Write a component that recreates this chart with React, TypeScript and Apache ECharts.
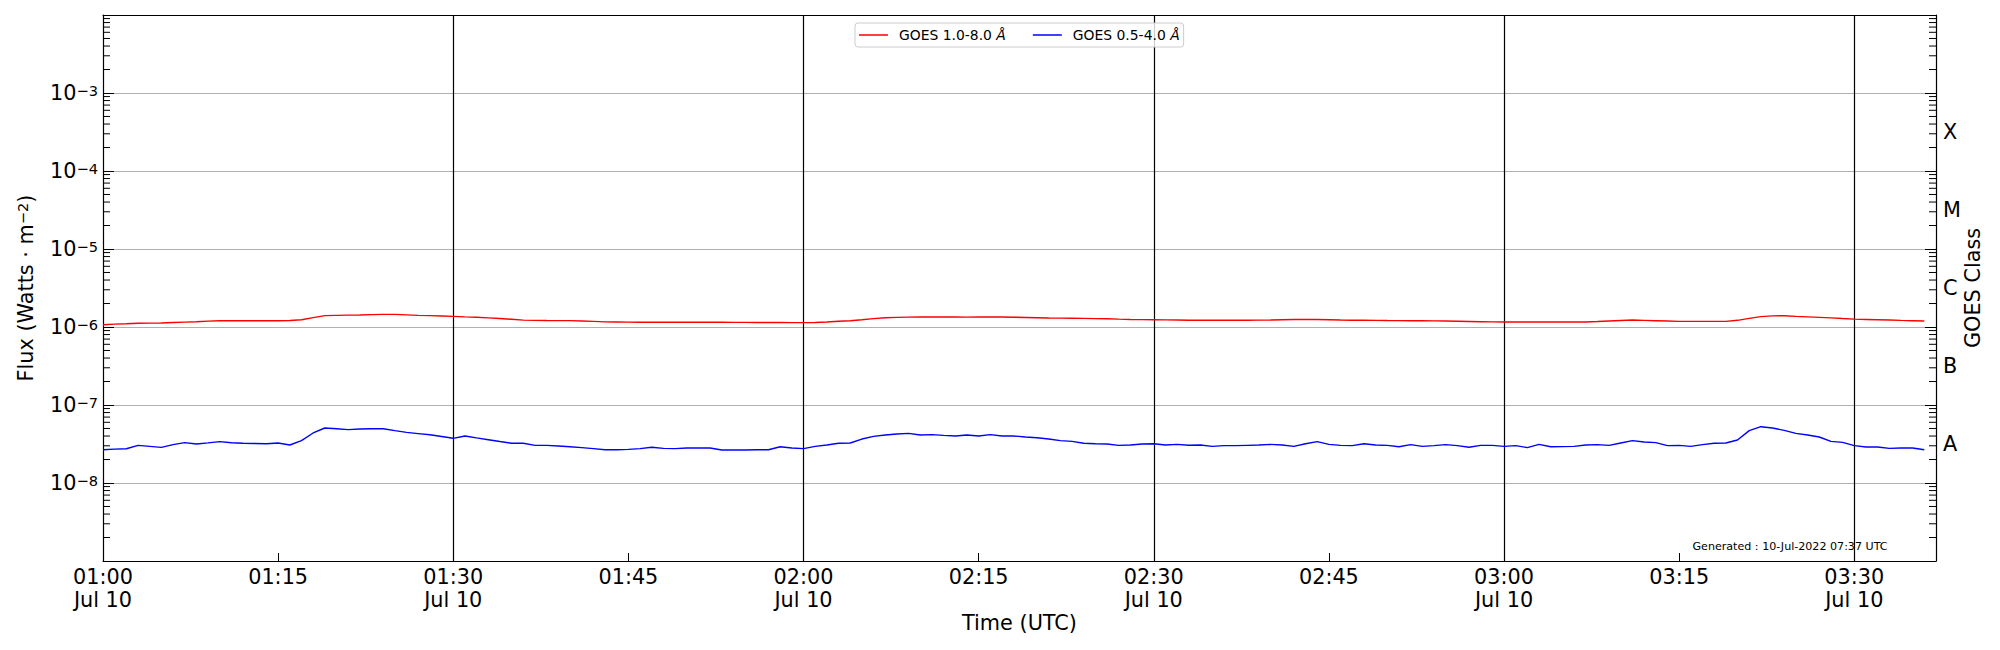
import React, { useEffect, useRef } from "react";
import * as echarts from "echarts";

const FONT = "'DejaVu Sans', sans-serif";

// time axis (minutes since 00:00 UTC, 10 Jul 2022)
const START_MIN = 60; // 01:00
const AXIS_END_MIN = 217; // 03:37
const xTickMinutes = [60, 75, 90, 105, 120, 135, 150, 165, 180, 195, 210];
const xTickLabels = [
  "01:00\nJul 10", "01:15", "01:30\nJul 10", "01:45", "02:00\nJul 10", "02:15",
  "02:30\nJul 10", "02:45", "03:00\nJul 10", "03:15", "03:30\nJul 10",
];

// GOES 1.0-8.0 Å flux, 1-minute cadence from 01:00 (×1e-6 W/m²)
const longMantissa = [
  1.07, 1.09, 1.10, 1.115, 1.12, 1.125, 1.14, 1.155, 1.17, 1.19,
  1.205, 1.205, 1.205, 1.205, 1.205, 1.205, 1.21, 1.24, 1.32, 1.40,
  1.41, 1.42, 1.425, 1.44, 1.45, 1.45, 1.43, 1.41, 1.40, 1.385,
  1.37, 1.35, 1.335, 1.31, 1.285, 1.255, 1.225, 1.215, 1.21, 1.206,
  1.206, 1.195, 1.18, 1.165, 1.16, 1.155, 1.15, 1.15, 1.148, 1.148,
  1.148, 1.148, 1.148, 1.148, 1.145, 1.145, 1.142, 1.14, 1.14, 1.138,
  1.137, 1.14, 1.16, 1.185, 1.205, 1.24, 1.28, 1.315, 1.33, 1.34,
  1.343, 1.343, 1.343, 1.343, 1.34, 1.343, 1.343, 1.343, 1.335, 1.325,
  1.315, 1.305, 1.30, 1.295, 1.29, 1.282, 1.275, 1.26, 1.25, 1.245,
  1.24, 1.235, 1.23, 1.222, 1.218, 1.225, 1.222, 1.22, 1.218, 1.225,
  1.232, 1.24, 1.248, 1.254, 1.25, 1.24, 1.23, 1.222, 1.218, 1.215,
  1.21, 1.207, 1.203, 1.20, 1.197, 1.194, 1.185, 1.177, 1.17, 1.162,
  1.159, 1.159, 1.159, 1.159, 1.159, 1.159, 1.159, 1.159, 1.175, 1.195,
  1.212, 1.229, 1.217, 1.205, 1.193, 1.182, 1.182, 1.182, 1.182, 1.182,
  1.218, 1.29, 1.36, 1.39, 1.395, 1.37, 1.35, 1.33, 1.31, 1.285,
  1.262, 1.25, 1.24, 1.228, 1.215, 1.205, 1.194,
];

// GOES 0.5-4.0 Å flux, 1-minute cadence from 01:00 (×1e-8 W/m²)
const shortMantissa = [
  2.67, 2.72, 2.75, 3.04, 2.95, 2.86, 3.10, 3.29, 3.16, 3.27,
  3.39, 3.28, 3.23, 3.21, 3.19, 3.26, 3.07, 3.49, 4.38, 5.07,
  4.95, 4.83, 4.92, 4.95, 4.97, 4.70, 4.46, 4.30, 4.15, 3.95,
  3.74, 4.01, 3.79, 3.59, 3.40, 3.23, 3.23, 3.04, 3.04, 2.98,
  2.92, 2.84, 2.76, 2.67, 2.67, 2.70, 2.76, 2.87, 2.78, 2.76,
  2.81, 2.81, 2.81, 2.65, 2.65, 2.65, 2.67, 2.67, 2.92, 2.81,
  2.76, 2.95, 3.07, 3.23, 3.26, 3.66, 3.96, 4.12, 4.25, 4.33,
  4.12, 4.17, 4.08, 4.01, 4.12, 4.01, 4.17, 4.01, 4.01, 3.89,
  3.81, 3.66, 3.49, 3.42, 3.23, 3.19, 3.16, 3.04, 3.07, 3.16,
  3.19, 3.07, 3.13, 3.05, 3.07, 2.95, 3.01, 3.01, 3.04, 3.07,
  3.13, 3.07, 2.95, 3.19, 3.39, 3.13, 3.04, 3.01, 3.19, 3.07,
  3.04, 2.92, 3.10, 2.95, 3.01, 3.10, 3.01, 2.87, 3.04, 3.04,
  2.95, 3.01, 2.84, 3.13, 2.92, 2.93, 2.95, 3.07, 3.10, 3.04,
  3.26, 3.49, 3.35, 3.29, 3.01, 3.04, 2.95, 3.10, 3.23, 3.26,
  3.56, 4.69, 5.27, 5.07, 4.73, 4.33, 4.12, 3.89, 3.42, 3.32,
  3.01, 2.90, 2.90, 2.78, 2.81, 2.81, 2.67,
];

const longFlux = longMantissa.map((v) => v * 1e-6);
const shortFlux = shortMantissa.map((v) => v * 1e-8);
const minutes = longFlux.map((_, i) => START_MIN + i);

const seriesNames = ["GOES 1.0-8.0 Å", "GOES 0.5-4.0 Å"];
const seriesColors = ["#ff0000", "#0000ff"];

// y axis
const Y_MIN = 1e-9;
const Y_MAX = 1e-2;
const yLabelExponents = [-8, -7, -6, -5, -4, -3];
const classLetters = ["A", "B", "C", "M", "X"];
const classLogPositions = [-7.5, -6.5, -5.5, -4.5, -3.5];
const minorDecades = [-9, -8, -7, -6, -5, -4, -3];
const minorFactors = [2, 3, 4, 5, 6, 7, 8, 9];

const generatedText = "Generated : 10-Jul-2022 07:37 UTC";

const FS = 20.8;
const SUP_FS = 14.6;

export default function App() {
  const ref = useRef<HTMLDivElement>(null);

  useEffect(() => {
    document.body.style.margin = "0";
    if (!ref.current) return;
    const chart = echarts.init(ref.current, null, { renderer: "svg" });

    const minorTicks: number[][] = [];
    minorDecades.forEach((d) =>
      minorFactors.forEach((f) => minorTicks.push([START_MIN, f * Math.pow(10, d)]))
    );

    const supRich = {
      b: { fontSize: FS, lineHeight: 21, verticalAlign: "bottom", fontFamily: FONT, color: "#000" },
      sup: {
        fontSize: SUP_FS,
        lineHeight: 15,
        verticalAlign: "top",
        padding: [0, 0, 10, 0],
        fontFamily: FONT,
        color: "#000",
      },
    };

    const option: any = {
      animation: false,
      backgroundColor: "#ffffff",
      textStyle: { fontFamily: FONT },
      grid: {
        left: 103,
        right: 64,
        top: 15,
        bottom: 89,
        containLabel: false,
        outerBoundsMode: "none",
      },
      legend: {
        data: seriesNames,
        left: 855,
        top: 23,
        orient: "horizontal",
        icon: "rect",
        itemWidth: 29,
        itemHeight: 1.5,
        itemGap: 27,
        padding: [5, 4, 5, 4],
        backgroundColor: "rgba(255,255,255,0.8)",
        borderColor: "#cccccc",
        borderWidth: 1,
        borderRadius: 3,
        selectedMode: false,
        formatter: (name: string) => name.replace("Å", "{i|Å}"),
        textStyle: {
          fontSize: 13.9,
          fontFamily: FONT,
          color: "#000",
          padding: [0, 0, 0, 6],
          rich: { i: { fontSize: 13.9, fontStyle: "italic", fontFamily: FONT, color: "#000" } },
        },
      },
      xAxis: [
        {
          type: "value",
          position: "bottom",
          min: START_MIN,
          max: AXIS_END_MIN,
          interval: 15,
          name: "Time (UTC)",
          nameLocation: "middle",
          nameGap: 51,
          nameMoveOverlap: false,
          nameTextStyle: { fontSize: FS, fontFamily: FONT, color: "#000" },
          axisLine: { show: true, onZero: false, lineStyle: { color: "#000", width: 1.2 } },
          axisTick: { show: true, inside: true, length: 8, lineStyle: { color: "#000", width: 1 } },
          axisLabel: {
            show: true,
            margin: 5,
            fontSize: FS,
            lineHeight: 22.5,
            fontFamily: FONT,
            color: "#000",
            showMinLabel: true,
            showMaxLabel: true,
            hideOverlap: false,
            formatter: (v: number) => {
              const i = xTickMinutes.indexOf(Math.round(v));
              return i >= 0 && Math.abs(v - Math.round(v)) < 1e-6 ? xTickLabels[i] : "";
            },
          },
          splitLine: { show: false },
        },
        {
          type: "value",
          position: "top",
          min: START_MIN,
          max: AXIS_END_MIN,
          interval: 30,
          axisLine: { show: true, onZero: false, lineStyle: { color: "#000", width: 1.2 } },
          axisTick: { show: false },
          axisLabel: { show: false },
          splitLine: {
            show: true,
            showMinLine: false,
            showMaxLine: false,
            lineStyle: { color: "#000", width: 1.2 },
          },
        },
      ],
      yAxis: [
        {
          type: "log",
          logBase: 10,
          position: "left",
          min: Y_MIN,
          max: Y_MAX,
          name: "{b|Flux (Watts · m}{sup|−2}{b|)}",
          nameLocation: "middle",
          nameRotate: 90,
          nameGap: 67,
          nameMoveOverlap: false,
          nameTextStyle: { fontSize: FS, fontFamily: FONT, color: "#000", rich: supRich },
          axisLine: { show: true, onZero: false, lineStyle: { color: "#000", width: 1.2 } },
          axisTick: { show: true, inside: true, length: 11, lineStyle: { color: "#000", width: 1 } },
          axisLabel: {
            show: true,
            margin: 5,
            showMinLabel: true,
            showMaxLabel: true,
            hideOverlap: false,
            rich: supRich,
            formatter: (v: number) => {
              const e = Math.round(Math.log10(v));
              if (yLabelExponents.indexOf(e) < 0) return "";
              return "{b|10}{sup|−" + Math.abs(e) + "}";
            },
          },
          splitLine: {
            show: true,
            showMinLine: false,
            showMaxLine: false,
            lineStyle: { color: "#b0b0b0", width: 1.1 },
          },
        },
        {
          type: "log",
          logBase: 10,
          position: "right",
          min: Y_MIN,
          max: Y_MAX,
          axisLine: { show: true, onZero: false, lineStyle: { color: "#000", width: 1.2 } },
          axisTick: { show: true, inside: true, length: 11, lineStyle: { color: "#000", width: 1 } },
          axisLabel: { show: false },
          splitLine: { show: false },
        },
        {
          type: "value",
          position: "right",
          min: -9,
          max: -2,
          interval: 0.5,
          name: "GOES Class",
          nameLocation: "middle",
          nameRotate: 90,
          nameGap: 26,
          nameMoveOverlap: false,
          nameTextStyle: { fontSize: FS, fontFamily: FONT, color: "#000" },
          axisLine: { show: false },
          axisTick: { show: false },
          splitLine: { show: false },
          axisLabel: {
            show: true,
            margin: 7,
            fontSize: FS,
            fontFamily: FONT,
            color: "#000",
            hideOverlap: false,
            formatter: (v: number) => {
              const i = classLogPositions.findIndex((p) => Math.abs(p - v) < 1e-6);
              return i >= 0 ? classLetters[i] : "";
            },
          },
        },
      ],
      series: [
        {
          name: seriesNames[0],
          type: "line",
          xAxisIndex: 0,
          yAxisIndex: 0,
          data: minutes.map((m, i) => [m, longFlux[i]]),
          symbol: "none",
          showSymbol: false,
          lineStyle: { color: seriesColors[0], width: 1.4 },
          itemStyle: { color: seriesColors[0] },
          z: 3,
        },
        {
          name: seriesNames[1],
          type: "line",
          xAxisIndex: 0,
          yAxisIndex: 0,
          data: minutes.map((m, i) => [m, shortFlux[i]]),
          symbol: "none",
          showSymbol: false,
          lineStyle: { color: seriesColors[1], width: 1.4 },
          itemStyle: { color: seriesColors[1] },
          z: 3,
        },
        {
          name: "minorTicks",
          type: "custom",
          xAxisIndex: 0,
          yAxisIndex: 0,
          silent: true,
          z: 4,
          encode: { x: 0, y: 1 },
          data: minorTicks,
          renderItem: (_params: any, api: any) => {
            const v = api.value(1);
            const l = api.coord([START_MIN, v]);
            const r = api.coord([AXIS_END_MIN, v]);
            return {
              type: "group",
              children: [
                {
                  type: "line",
                  shape: { x1: l[0], y1: l[1], x2: l[0] + 7, y2: l[1] },
                  style: { stroke: "#000", lineWidth: 1 },
                },
                {
                  type: "line",
                  shape: { x1: r[0] - 7, y1: r[1], x2: r[0], y2: r[1] },
                  style: { stroke: "#000", lineWidth: 1 },
                },
              ],
            };
          },
        },
      ],
      graphic: [
        {
          type: "text",
          x: 1790,
          y: 546,
          silent: true,
          style: {
            text: generatedText,
            fontSize: 11.1,
            fontFamily: FONT,
            fill: "#000",
            align: "center",
            verticalAlign: "middle",
            textAlign: "center",
            textVerticalAlign: "middle",
          },
        },
      ],
    };

    chart.setOption(option);
    return () => {
      chart.dispose();
    };
  }, []);

  return <div ref={ref} style={{ width: 2000, height: 650 }} />;
}
